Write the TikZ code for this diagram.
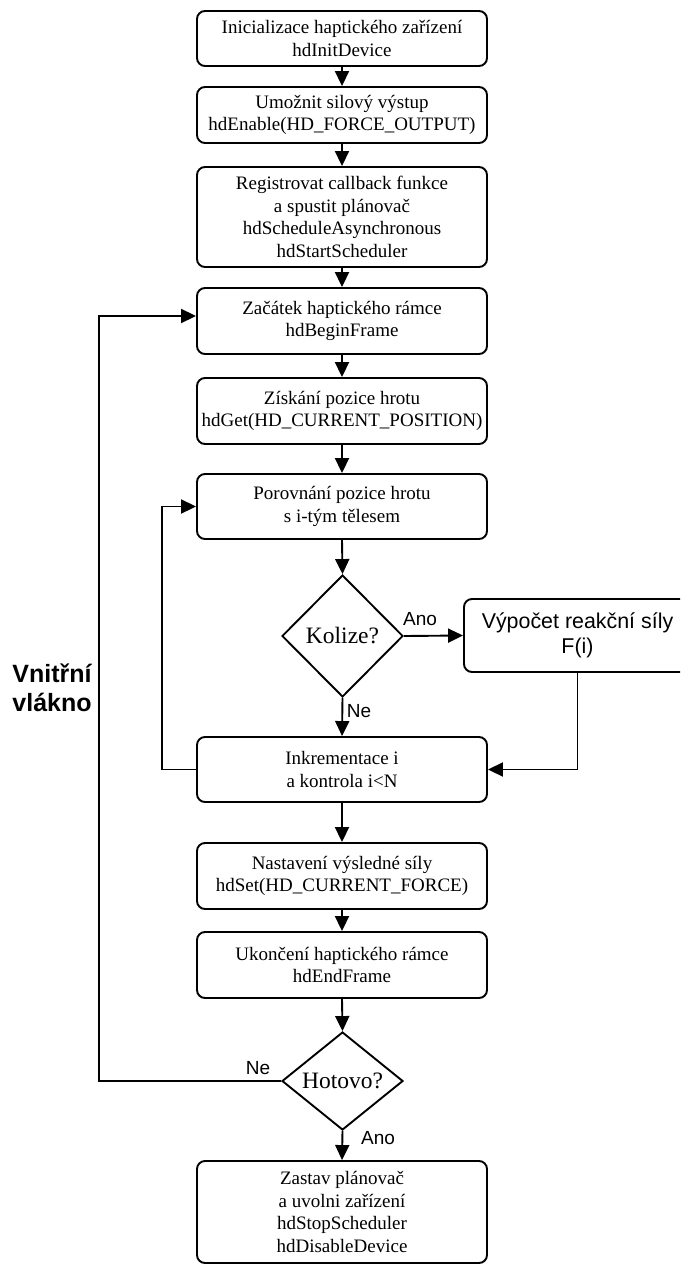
\documentclass[tikz,border=0pt]{standalone}
\usepackage{fontspec}
\setmainfont{Liberation Serif}
\newfontfamily\labelfont{Liberation Sans}
\usetikzlibrary{arrows.meta,shapes.geometric}
\tikzset{
  box/.style={draw, line width=1.9pt, rounded corners=8pt, minimum width=290pt, align=center, inner sep=0pt, font=\fontsize{19}{22.5}\selectfont},
  dec/.style={draw, diamond, line width=1.9pt, inner sep=0pt, font=\fontsize{23.5}{26}\selectfont},
  arr/.style={line width=1.9pt, -{Triangle[length=15pt,width=14pt]}},
  lbl/.style={font=\labelfont\fontsize{19}{22}\selectfont, inner sep=0pt},
  side/.style={font=\labelfont\bfseries\fontsize{25}{29}\selectfont, align=center, inner sep=0pt},
}
\begin{document}
\begin{tikzpicture}[x=1pt,y=-1pt]
\useasboundingbox (0,0) rectangle (680,1265);
\clip (0,0) rectangle (680,1265);
\node[box, minimum height=55pt] (b1) at (342,38.5) {Inicializace haptického zařízení\\hdInitDevice};
\node[box, minimum height=56pt] (b2) at (342,115) {Umožnit silový výstup\\hdEnable(HD\_FORCE\_OUTPUT)};
\node[box, minimum height=100pt] (b3) at (342,217) {Registrovat callback funkce\\a spustit plánovač\\hdScheduleAsynchronous\\hdStartScheduler};
\node[box, minimum height=66pt] (b4) at (342,321) {Začátek haptického rámce\\hdBeginFrame};
\node[box, minimum height=66pt] (b5) at (342,411) {Získání pozice hrotu\\hdGet(HD\_CURRENT\_POSITION)};
\node[box, minimum height=65pt] (b6) at (342,506.5) {Porovnání pozice hrotu\\s i-tým tělesem};
\node[dec, minimum width=121pt, minimum height=122pt] (kol) at (342.5,636) {Kolize?};
\node[box, font=\labelfont\fontsize{21.4}{25}\selectfont, minimum width=227pt, minimum height=73pt] (calc) at (577.5,635.5) {Výpočet reakční síly\\F(i)};
\node[box, minimum height=65pt] (b7) at (342,769.5) {Inkrementace i\\a kontrola i<N};
\node[box, minimum height=66pt] (b8) at (342,876) {Nastavení výsledné síly\\hdSet(HD\_CURRENT\_FORCE)};
\node[box, minimum height=66pt] (b9) at (342,965) {Ukončení haptického rámce\\hdEndFrame};
\node[dec, aspect=1.2, minimum width=121pt, minimum height=98pt] (hot) at (342.5,1081) {Hotovo?};
\node[box, minimum height=102pt] (b10) at (342,1212) {Zastav plánovač\\a uvolni zařízení\\hdStopScheduler\\hdDisableDevice};

\node[lbl] (ano1) at (420,619) {Ano};
\node[lbl] (ne1) at (359,711) {Ne};
\node[lbl] (ne2) at (258,1068) {Ne};
\node[lbl] (ano2) at (378,1138) {Ano};
\node[side] (vv) at (52,688) {Vnitřní\\vlákno};

\draw[arr] (b1.south) -- (b2.north);
\draw[arr] (b2.south) -- (b3.north);
\draw[arr] (b3.south) -- (b4.north);
\draw[arr] (b4.south) -- (b5.north);
\draw[arr] (b5.south) -- (b6.north);
\draw[arr] (b6.south) -- (kol.north);
\draw[arr] (kol.east) -- (calc.west);
\draw[arr] (kol.south) -- (b7.north);
\draw[arr] (calc.south) |- (b7.east);
\draw[arr] (b7.west) -- ++(-34,0) |- (b6.west);
\draw[arr] (b7.south) -- (b8.north);
\draw[arr] (b8.south) -- (b9.north);
\draw[arr] (b9.south) -- (hot.north);
\draw[arr] (hot.west) -- ++(-182,0) |- ([yshift=5pt]b4.west);
\draw[arr] (hot.south) -- (b10.north);
\end{tikzpicture}
\end{document}
